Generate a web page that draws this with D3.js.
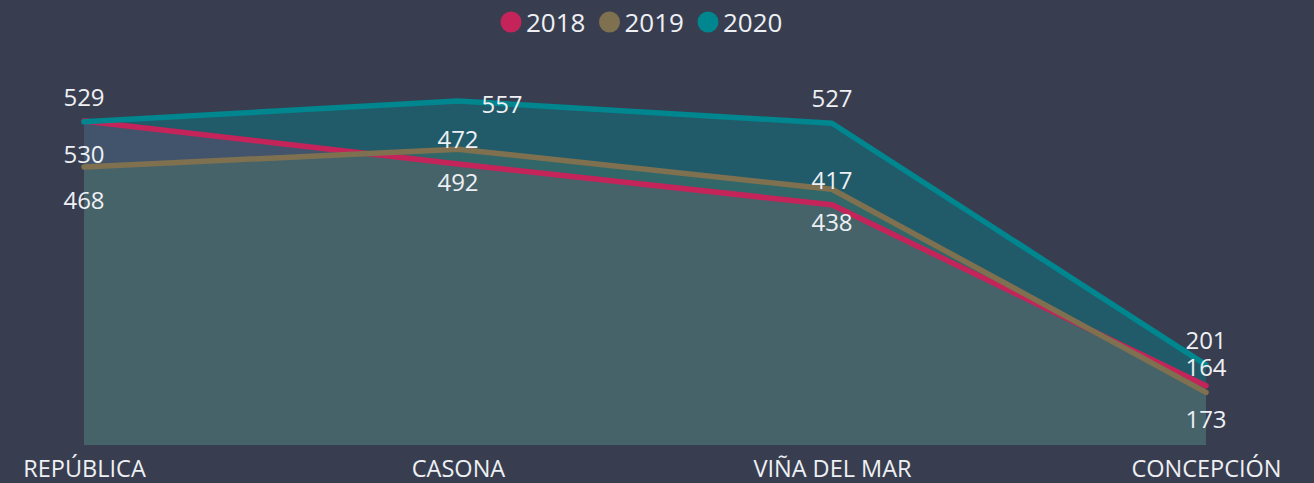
<!DOCTYPE html>
<html>
<head>
<meta charset="utf-8">
<script src="https://cdn.jsdelivr.net/npm/d3@7"></script>
<style>
    html, body { margin: 0; padding: 0; background: #383e50; }
    svg { display: block; }
</style>
</head>
<body>
<div id="chart"></div>
<script>
// Chart data
var categories = ["REPÚBLICA", "CASONA", "VIÑA DEL MAR", "CONCEPCIÓN"];
var years = ["2018", "2019", "2020"];
var values2018 = [530, 472, 417, 173];
var values2019 = [468, 492, 438, 164];
var values2020 = [529, 557, 527, 201];
// where each data label sits relative to its point
var labelPos2018 = ["below", "above", "above", "below"];
var labelPos2019 = ["below", "below", "below", "above"];
var labelPos2020 = ["above", "right", "above", "above"];
var axisMin = 93;

(function () {
    var width = 1314, height = 483;
    var colors = {"2018": "#c4245a", "2019": "#7f7150", "2020": "#00868f"};
    var bg = "#383e50";
    var textColor = "#eef0f4";
    var font = "'Open Sans', 'Noto Sans', sans-serif";

    var series = [
        {name: "2018", values: values2018, pos: labelPos2018},
        {name: "2019", values: values2019, pos: labelPos2019},
        {name: "2020", values: values2020, pos: labelPos2020}
    ];

    var svg = d3.select("#chart").append("svg")
        .attr("width", width)
        .attr("height", height)
        .style("background", bg);

    var x = d3.scalePoint().domain(categories).range([84, 1206]);
    var y = d3.scaleLinear().domain([axisMin, d3.max(values2020)]).range([445, 101]);

    var area = d3.area()
        .x(function (d, i) { return x(categories[i]); })
        .y0(y(axisMin))
        .y1(function (d) { return y(d); });
    var line = d3.line()
        .x(function (d, i) { return x(categories[i]); })
        .y(function (d) { return y(d); });

    // Areas first, then all the lines on top
    series.forEach(function (s) {
        svg.append("path")
            .attr("d", area(s.values))
            .attr("fill", colors[s.name])
            .attr("fill-opacity", 0.4);
    });
    series.forEach(function (s) {
        svg.append("path")
            .attr("d", line(s.values))
            .attr("fill", "none")
            .attr("stroke", colors[s.name])
            .attr("stroke-width", 5.5)
            .attr("stroke-linecap", "round")
            .attr("stroke-linejoin", "round");
    });

    // Data labels
    series.forEach(function (s) {
        s.values.forEach(function (v, i) {
            var px = x(categories[i]), py = y(v);
            var dx = 0, dy = -16;
            if (s.pos[i] === "below") { dy = 42; }
            if (s.pos[i] === "right") { dx = 44; dy = 12; }
            svg.append("text")
                .attr("x", px + dx)
                .attr("y", py + dy)
                .attr("text-anchor", "middle")
                .attr("fill", textColor)
                .style("font-family", font)
                .style("font-size", "24px")
                .text(v);
        });
    });

    // Category axis
    var xAxis = svg.append("g")
        .attr("transform", "translate(0," + 477 + ")")
        .call(d3.axisBottom(x).tickSize(0).tickPadding(0));
    xAxis.select(".domain").remove();
    xAxis.selectAll("text")
        .attr("dy", 0)
        .attr("fill", textColor)
        .style("font-family", font)
        .style("font-size", "23.5px");

    // Legend
    var legend = svg.append("g").attr("transform", "translate(511,22)");
    years.forEach(function (yr, i) {
        var g = legend.append("g").attr("transform", "translate(" + (i * 98.5) + ",0)");
        g.append("circle").attr("r", 10.5).attr("fill", colors[yr]);
        g.append("text")
            .attr("x", 15)
            .attr("y", 10)
            .attr("fill", textColor)
            .style("font-family", font)
            .style("font-size", "26px")
            .text(yr);
    });
}());
</script>
</body>
</html>
